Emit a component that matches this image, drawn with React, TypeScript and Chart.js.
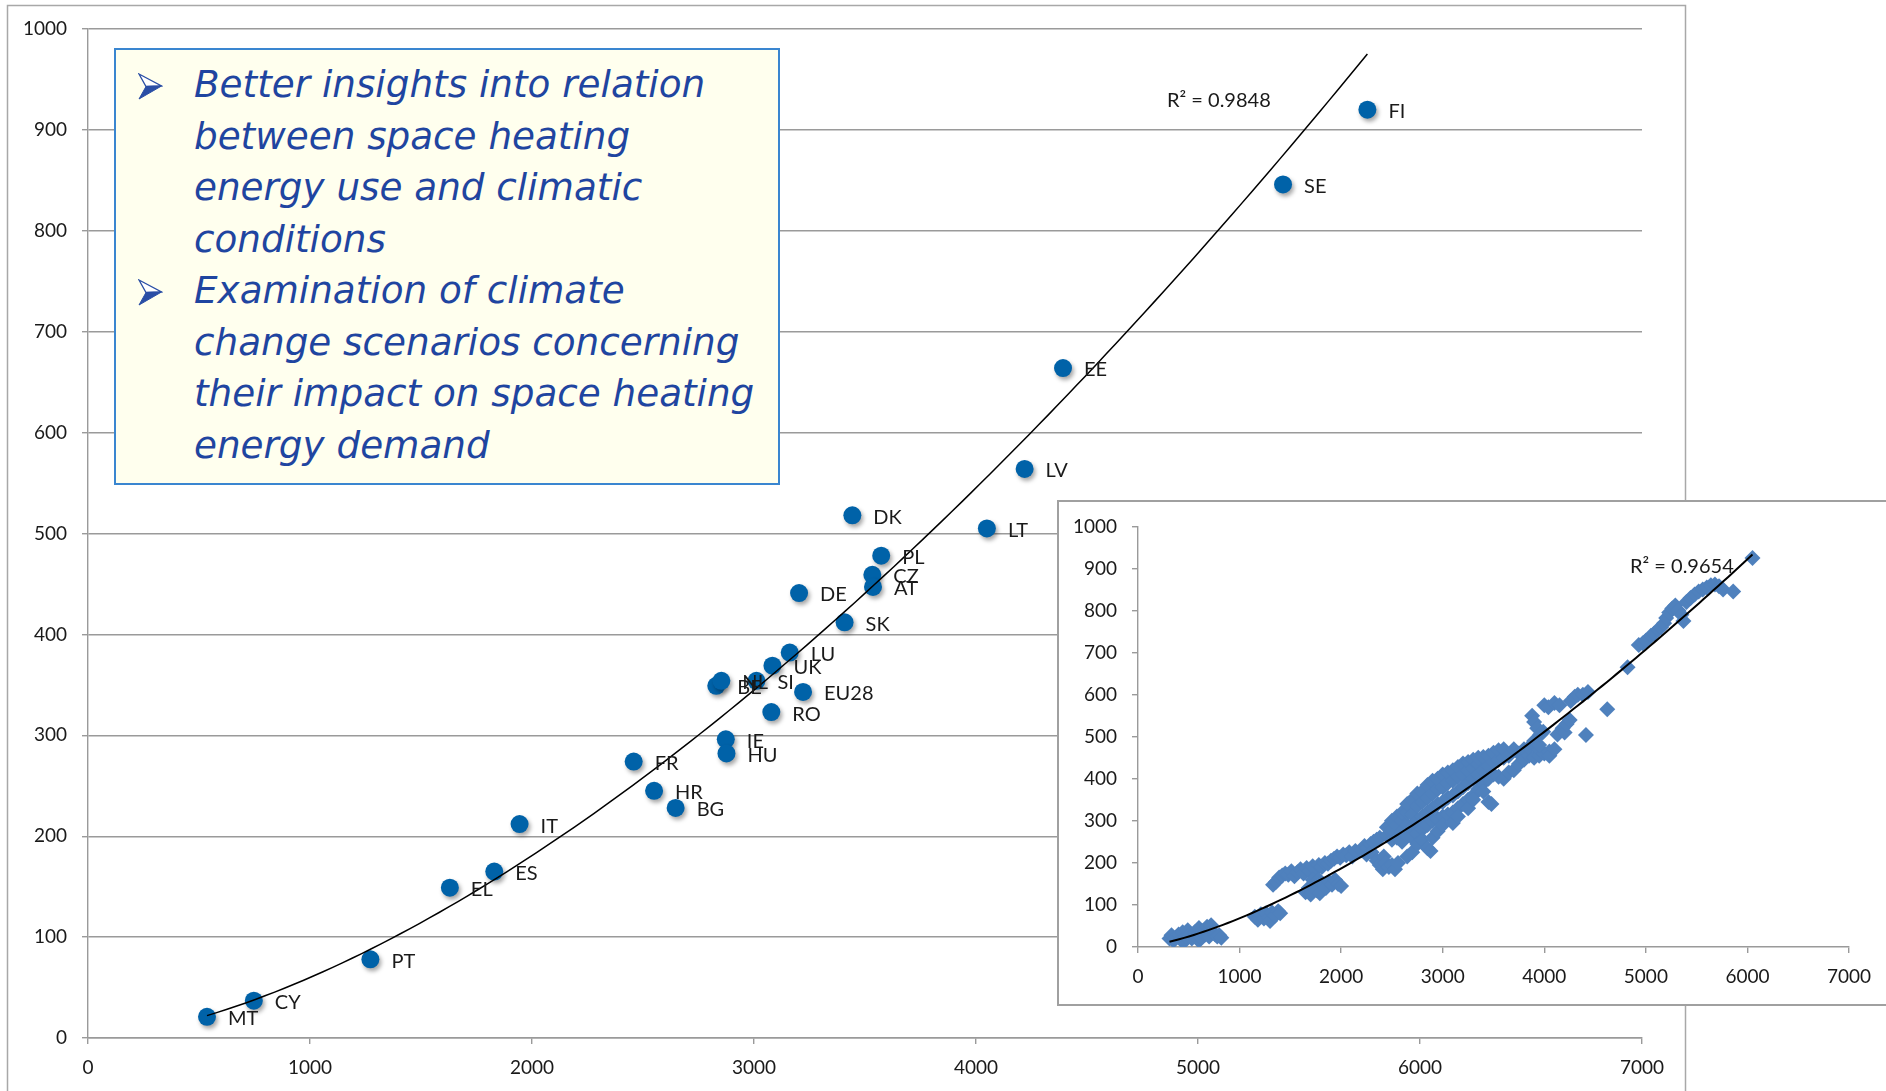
import React, { useEffect, useRef } from "react";
import { Chart, registerables } from "chart.js";

Chart.register(...registerables);

// ---------- main chart data ----------
const countries = ["MT", "CY", "PT", "EL", "ES", "IT", "FR", "HR", "BG", "IE", "HU", "BE", "NL", "SI", "UK", "LU", "EU28", "RO", "DE", "SK", "CZ", "AT", "PL", "DK", "LT", "LV", "EE", "SE", "FI"];
const heatingDegreeDays = [536, 747, 1272, 1630, 1830, 1944, 2458, 2550, 2647, 2873, 2876, 2830, 2853, 3011, 3083, 3161, 3221, 3078, 3203, 3408, 3533, 3536, 3573, 3443, 4049, 4219, 4392, 5383, 5763];
const spaceHeatingEnergy = [21, 37, 78, 149, 165, 212, 274, 245, 228, 296, 282, 349, 354, 354, 369, 382, 343, 323, 441, 412, 459, 447, 478, 518, 505, 564, 664, 846, 920];
const mainR2Label = "R² = 0.9848";

const xTicks = [0, 1000, 2000, 3000, 4000, 5000, 6000, 7000];
const yTicks = [0, 100, 200, 300, 400, 500, 600, 700, 800, 900, 1000];

// ---------- inset data ----------
const insetObservations: [number, number][] = [
  [310, 20], [330, 28], [350, 15], [370, 22], [400, 30], [420, 18], [440, 35], [450, 12], [470, 25], [490, 40], [510, 30], [530, 20], [560, 35], [580, 28], [600, 45], [600, 15], [620, 22], [640, 38], [660, 30], [680, 48], [700, 40], [700, 25], [720, 52], [740, 35], [760, 30], [780, 25], [800, 28], [820, 22],
  [1150, 72], [1180, 65], [1210, 78], [1240, 68], [1260, 80], [1290, 70], [1300, 62], [1320, 82], [1350, 75], [1380, 85], [1400, 80],
  [1330, 148], [1360, 155], [1390, 165], [1420, 170], [1450, 175], [1480, 172], [1510, 180], [1540, 168], [1570, 178], [1600, 185], [1630, 175], [1660, 188], [1690, 180], [1720, 192], [1750, 185], [1780, 195], [1810, 190], [1840, 200], [1870, 198], [1900, 205], [1930, 210], [1960, 215], [1990, 212], [2020, 220], [2050, 218], [2080, 225], [2110, 215], [2140, 228],
  [1650, 130], [1680, 140], [1700, 125], [1720, 160], [1730, 145], [1760, 135], [1780, 160], [1790, 128], [1820, 150], [1850, 140], [1880, 155], [1910, 148], [1940, 160], [1970, 150], [2000, 145],
  [2200, 230], [2230, 240], [2250, 220], [2260, 235], [2290, 245], [2300, 225], [2320, 250], [2350, 255], [2380, 260],
  [2350, 205], [2380, 195], [2410, 185], [2420, 215], [2440, 200], [2470, 190], [2500, 195], [2530, 185], [2560, 200],
  [2450, 265], [2450, 285], [2500, 255], [2500, 280], [2500, 300], [2550, 260], [2550, 290], [2550, 310],
  [2600, 250], [2600, 275], [2600, 300], [2600, 320], [2650, 265], [2650, 290], [2650, 320], [2650, 340],
  [2700, 260], [2700, 285], [2700, 315], [2700, 350], [2750, 270], [2750, 300], [2750, 335], [2750, 365],
  [2800, 280], [2800, 310], [2800, 345], [2800, 370], [2850, 290], [2850, 320], [2850, 355], [2850, 385],
  [2900, 300], [2900, 330], [2900, 365], [2900, 395], [2950, 305], [2950, 340], [2950, 375], [2950, 400],
  [3000, 310], [3000, 345], [3000, 380], [3000, 410], [3050, 315], [3050, 355], [3050, 390], [3050, 415],
  [3100, 320], [3100, 360], [3100, 395], [3100, 420], [3150, 330], [3150, 370], [3150, 405], [3150, 428],
  [3200, 340], [3200, 380], [3200, 410], [3200, 436], [3250, 350], [3250, 390], [3250, 420], [3250, 440],
  [3300, 360], [3300, 400], [3300, 425], [3300, 445], [3350, 375], [3350, 410], [3350, 435], [3350, 450],
  [3400, 390], [3400, 420], [3400, 452], [3450, 400], [3450, 430], [3450, 455], [3500, 410], [3500, 440], [3500, 462],
  [3550, 405], [3550, 445], [3550, 468], [3600, 400], [3600, 450], [3600, 470], [3650, 415], [3650, 455],
  [3700, 420], [3700, 470], [3750, 435], [3750, 460], [3800, 445], [3800, 470], [3850, 455], [3850, 475],
  [3900, 450], [3900, 480], [3950, 455], [3950, 470], [4000, 460], [4050, 465], [4050, 455], [4100, 470],
  [2650, 215], [2700, 225], [2750, 245], [2800, 255], [2850, 235], [2880, 228], [2900, 260], [2950, 275], [3000, 290], [3100, 295], [3150, 310], [3250, 330], [3300, 350], [3400, 370], [3450, 345], [3480, 340],
  [3880, 550], [3900, 535], [3900, 490], [3930, 520], [3950, 480], [3960, 505], [3990, 512], [4000, 575], [4040, 570], [4100, 580], [4130, 505], [4150, 575], [4180, 520], [4200, 510], [4220, 530], [4250, 540], [4260, 585], [4300, 595], [4330, 600], [4380, 600], [4430, 606],
  [4410, 504], [4620, 565], [4820, 665],
  [4930, 718], [4970, 722], [5000, 728], [5050, 740], [5080, 745], [5120, 755], [5150, 760], [5180, 770], [5200, 782], [5230, 795], [5260, 805], [5290, 812], [5320, 800], [5350, 790], [5370, 775], [5400, 820], [5440, 830], [5480, 838], [5520, 845], [5560, 850], [5600, 855], [5640, 860], [5680, 862], [5720, 858], [5760, 850], [5860, 845], [6050, 925],
];
const insetR2Label = "R² = 0.9654";

// ---------- text box ----------
const bulletItems: string[][] = [
  ["Better insights into relation", "between space heating", "energy use and climatic", "conditions"],
  ["Examination of climate", "change scenarios concerning", "their impact on space heating", "energy demand"],
];

const LABEL_FONT = "Lato, 'Open Sans', sans-serif";
const AXIS_GREY = "#9a9a9a";

// Power trendline (least squares on ln y vs ln x), as a spreadsheet power trendline does
function fitPower(xs: number[], ys: number[]) {
  let n = 0, sx = 0, sy = 0, sxx = 0, sxy = 0;
  for (let i = 0; i < xs.length; i++) {
    if (xs[i] <= 0 || ys[i] <= 0) continue;
    const lx = Math.log(xs[i]);
    const ly = Math.log(ys[i]);
    n++; sx += lx; sy += ly; sxx += lx * lx; sxy += lx * ly;
  }
  const b = (n * sxy - sx * sy) / (n * sxx - sx * sx);
  const lnA = (sy - b * sx) / n;
  return (x: number) => Math.exp(lnA) * Math.pow(x, b);
}

function trendPoints(xs: number[], ys: number[], steps = 120) {
  const f = fitPower(xs, ys);
  const lo = Math.min(...xs);
  const hi = Math.max(...xs);
  const out: { x: number; y: number }[] = [];
  for (let i = 0; i <= steps; i++) {
    const x = lo + ((hi - lo) * i) / steps;
    out.push({ x, y: f(x) });
  }
  return out;
}

function axisConfig(min: number, max: number, ticks: number[], showGrid: boolean, fitSize: number, horizontal: boolean) {
  return {
    type: "linear" as const,
    min,
    max,
    afterBuildTicks: (scale: any) => {
      scale.ticks = ticks.map((v) => ({ value: v }));
    },
    afterFit: (scale: any) => {
      if (horizontal) scale.height = fitSize;
      else scale.width = fitSize;
    },
    ticks: {
      color: "#1a1a1a",
      font: { family: LABEL_FONT, size: 19 },
      padding: horizontal ? 12 : 15,
      maxRotation: 0,
      autoSkip: false,
      callback: (v: any) => String(v),
    },
    grid: {
      display: true,
      color: showGrid ? AXIS_GREY : "rgba(0,0,0,0)",
      lineWidth: 1.4,
      drawTicks: true,
      tickLength: 6,
      tickColor: AXIS_GREY,
      tickWidth: 1.4,
    },
    border: { display: true, color: AXIS_GREY, width: 1.4 },
  };
}

const MainChart: React.FC = () => {
  const ref = useRef<HTMLCanvasElement | null>(null);
  useEffect(() => {
    if (!ref.current) return;
    const points = heatingDegreeDays.map((x, i) => ({ x, y: spaceHeatingEnergy[i] }));
    const trend = trendPoints(heatingDegreeDays, spaceHeatingEnergy);

    const framePlugin = {
      id: "frame",
      beforeDraw(chart: any) {
        const ctx = chart.ctx;
        ctx.save();
        ctx.fillStyle = "#ffffff";
        ctx.fillRect(0, 0, chart.width, chart.height);
        ctx.strokeStyle = "#a8a8a8";
        ctx.lineWidth = 1.5;
        ctx.strokeRect(7.5, 5.5, 1678, 1200);
        ctx.restore();
      },
    };
    const shadowPlugin = {
      id: "dotShadow",
      beforeDatasetDraw(chart: any, args: any) {
        if (args.index !== 1) return;
        const ctx = chart.ctx;
        ctx.save();
        ctx.shadowColor = "rgba(0,0,0,0.35)";
        ctx.shadowBlur = 4;
        ctx.shadowOffsetX = 2;
        ctx.shadowOffsetY = 3;
      },
      afterDatasetDraw(chart: any, args: any) {
        if (args.index !== 1) return;
        chart.ctx.restore();
      },
    };
    const labelPlugin = {
      id: "pointLabels",
      afterDatasetsDraw(chart: any) {
        const ctx = chart.ctx;
        const meta = chart.getDatasetMeta(1);
        ctx.save();
        ctx.font = `20px ${LABEL_FONT}`;
        ctx.fillStyle = "#1a1a1a";
        ctx.textAlign = "left";
        ctx.textBaseline = "middle";
        meta.data.forEach((el: any, i: number) => {
          ctx.fillText(countries[i], el.x + 21, el.y + 2);
        });
        const area = chart.chartArea;
        ctx.font = `20px ${LABEL_FONT}`;
        ctx.fillText(mainR2Label, area.left + 1079, area.top + 72);
        ctx.restore();
      },
    };

    const chart = new Chart(ref.current, {
      type: "scatter",
      data: {
        datasets: [
          {
            type: "line",
            label: "trend",
            data: trend,
            borderColor: "#000000",
            borderWidth: 1.5,
            pointRadius: 0,
            tension: 0,
            fill: false,
            order: 0,
          } as any,
          {
            type: "scatter",
            label: "countries",
            data: points,
            backgroundColor: "#0062a8",
            borderWidth: 0,
            pointRadius: 9,
            pointHoverRadius: 9,
            order: 1,
          },
        ],
      },
      options: {
        animation: false,
        responsive: false,
        devicePixelRatio: 1,
        layout: { padding: { left: 0, top: 29, right: 244, bottom: 0 } },
        plugins: { legend: { display: false }, tooltip: { enabled: false } },
        scales: {
          x: axisConfig(0, 7000, xTicks, false, 53, true) as any,
          y: axisConfig(0, 1000, yTicks, true, 88, false) as any,
        },
      },
      plugins: [framePlugin, shadowPlugin, labelPlugin],
    });
    return () => chart.destroy();
  }, []);
  return <canvas ref={ref} width={1886} height={1091} style={{ position: "absolute", left: 0, top: 0, width: 1886, height: 1091 }} />;
};

const InsetChart: React.FC = () => {
  const ref = useRef<HTMLCanvasElement | null>(null);
  useEffect(() => {
    if (!ref.current) return;
    const xs = insetObservations.map((p) => p[0]);
    const ys = insetObservations.map((p) => p[1]);
    const points = insetObservations.map((p) => ({ x: p[0], y: p[1] }));
    const trend = trendPoints(xs, ys);

    const framePlugin = {
      id: "insetFrame",
      beforeDraw(chart: any) {
        const ctx = chart.ctx;
        ctx.save();
        ctx.fillStyle = "#ffffff";
        ctx.fillRect(0, 0, chart.width, chart.height);
        ctx.strokeStyle = "#a0a0a0";
        ctx.lineWidth = 2;
        ctx.strokeRect(1, 1, chart.width + 20, chart.height - 2);
        ctx.restore();
      },
    };
    const labelPlugin = {
      id: "insetLabel",
      afterDatasetsDraw(chart: any) {
        const ctx = chart.ctx;
        const area = chart.chartArea;
        ctx.save();
        ctx.font = `20px ${LABEL_FONT}`;
        ctx.fillStyle = "#1a1a1a";
        ctx.textAlign = "left";
        ctx.textBaseline = "middle";
        ctx.fillText(insetR2Label, area.left + 492, area.top + 40);
        ctx.restore();
      },
    };

    const chart = new Chart(ref.current, {
      type: "scatter",
      data: {
        datasets: [
          {
            type: "line",
            label: "trend",
            data: trend,
            borderColor: "#000000",
            borderWidth: 2,
            pointRadius: 0,
            tension: 0,
            fill: false,
            order: 0,
          } as any,
          {
            type: "scatter",
            label: "observations",
            data: points,
            backgroundColor: "#4f81bd",
            borderWidth: 0,
            pointStyle: "rectRot",
            pointRadius: 8,
            pointHoverRadius: 8,
            order: 1,
          },
        ],
      },
      options: {
        animation: false,
        responsive: false,
        devicePixelRatio: 1,
        layout: { padding: { left: 0, top: 26, right: 37, bottom: 0 } },
        plugins: { legend: { display: false }, tooltip: { enabled: false } },
        scales: {
          x: axisConfig(0, 7000, xTicks, false, 59, true) as any,
          y: axisConfig(0, 1000, yTicks, false, 81, false) as any,
        },
      },
      plugins: [framePlugin, labelPlugin],
    });
    return () => chart.destroy();
  }, []);
  return <canvas ref={ref} width={829} height={506} style={{ position: "absolute", left: 1057, top: 500, width: 829, height: 506 }} />;
};

const Arrow: React.FC<{ top: number }> = ({ top }) => (
  <svg width={25} height={27} viewBox="0 0 25 27" style={{ position: "absolute", left: 22, top }}>
    <polygon points="1,1 23.5,13 8,13.5" fill="#ffffff" stroke="#2a4ea5" strokeWidth={1.3} strokeLinejoin="miter" />
    <polygon points="8,13.5 23.5,13 1,26" fill="#2a4ea5" stroke="#2a4ea5" strokeWidth={1} />
  </svg>
);

const TextBox: React.FC = () => {
  const lineHeight = 51.5;
  const firstTop = 9;
  let lineIndex = 0;
  const rows: React.ReactNode[] = [];
  bulletItems.forEach((item, bi) => {
    item.forEach((line, li) => {
      const top = firstTop + lineIndex * lineHeight;
      if (li === 0) rows.push(<Arrow key={`a${bi}`} top={top + 14} />);
      rows.push(
        <div
          key={`l${bi}-${li}`}
          style={{
            position: "absolute",
            left: 78,
            top,
            height: lineHeight,
            lineHeight: `${lineHeight}px`,
            whiteSpace: "nowrap",
          }}
        >
          {line}
        </div>
      );
      lineIndex++;
    });
  });
  return (
    <div
      style={{
        position: "absolute",
        left: 114,
        top: 48,
        width: 666,
        height: 437,
        boxSizing: "border-box",
        border: "2px solid #3a86d0",
        background: "#ffffee",
        fontFamily: "'DejaVu Sans', Verdana, sans-serif",
        fontStyle: "italic",
        fontSize: 37.3,
        color: "#1f45a0",
      }}
    >
      {rows}
    </div>
  );
};

export default function App() {
  return (
    <div style={{ position: "absolute", left: 0, top: 0, width: 1886, height: 1091, overflow: "hidden", background: "#ffffff" }}>
      <MainChart />
      <TextBox />
      <InsetChart />
    </div>
  );
}
